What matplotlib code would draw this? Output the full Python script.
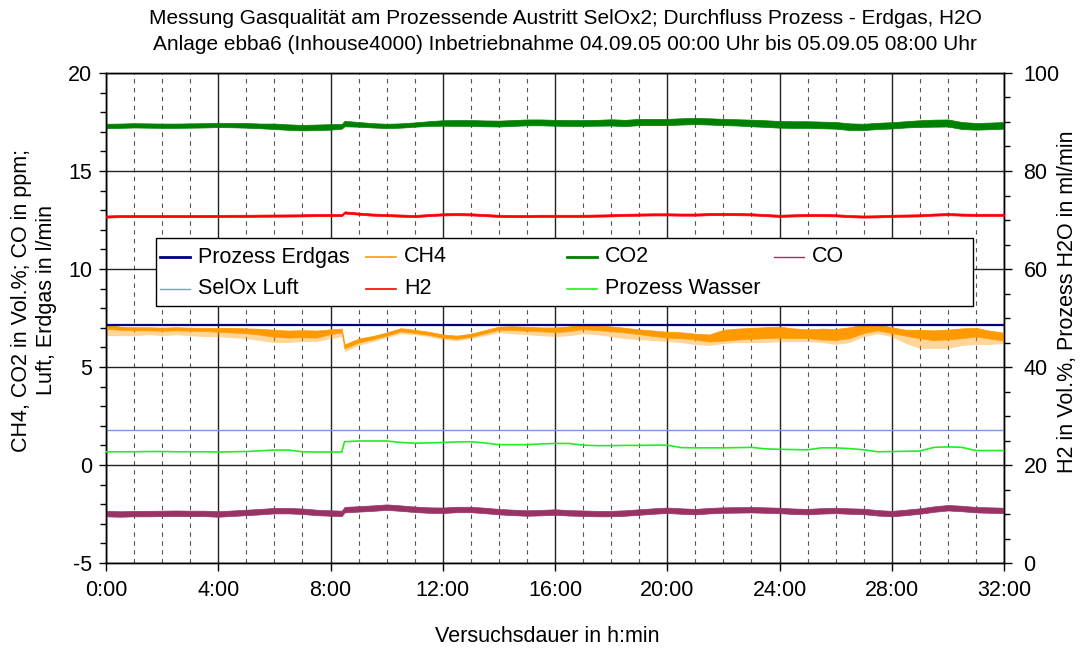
import numpy as np
import matplotlib
matplotlib.use("Agg")
import matplotlib.pyplot as plt
from matplotlib.lines import Line2D
from matplotlib.patches import Rectangle
from matplotlib.ticker import MultipleLocator, FuncFormatter

plt.rcParams['font.family'] = ['Liberation Sans', 'DejaVu Sans']
plt.rcParams['axes.unicode_minus'] = False

# Zeitachse in Stunden seit Inbetriebnahme (Sprung bei 8:25)
hours = [0.0, 0.5, 1.0, 1.5, 2.0, 2.5, 3.0, 3.5, 4.0, 4.5, 5.0, 5.5, 6.0, 6.5, 7.0, 7.5, 8.0, 8.4,
         8.5, 9.0, 9.5, 10.0, 10.5, 11.0, 11.5, 12.0, 12.5, 13.0, 13.5, 14.0, 14.5, 15.0, 15.5, 16.0,
         16.5, 17.0, 17.5, 18.0, 18.5, 19.0, 19.5, 20.0, 20.5, 21.0, 21.5, 22.0, 22.5, 23.0, 23.5, 24.0,
         24.5, 25.0, 25.5, 26.0, 26.5, 27.0, 27.5, 28.0, 28.5, 29.0, 29.5, 30.0, 30.5, 31.0, 31.5, 32.0]

# Durchfluss Erdgas und SelOx-Luft in l/min
erdgas_flow = 7.15
selox_air = 1.8

# CH4 in Vol.-%: Mittelwert, Rauschband (halbe Breite) und untere Spitzen
ch4_mid = [7.05, 6.98, 6.95, 6.95, 6.93, 6.95, 6.93, 6.92, 6.90, 6.88, 6.85, 6.80, 6.72, 6.68, 6.70, 6.68, 6.80, 6.86,
           6.05, 6.35, 6.50, 6.68, 6.90, 6.82, 6.72, 6.58, 6.52, 6.62, 6.80, 6.98, 6.98, 6.95, 6.92, 6.90,
           6.95, 7.05, 7.00, 6.95, 6.88, 6.80, 6.72, 6.65, 6.62, 6.55, 6.48, 6.62, 6.68, 6.72, 6.75, 6.78,
           6.72, 6.70, 6.68, 6.66, 6.75, 6.95, 7.02, 6.88, 6.75, 6.68, 6.62, 6.66, 6.72, 6.78, 6.65, 6.55]
ch4_band = [0.10, 0.08, 0.08, 0.08, 0.08, 0.08, 0.08, 0.08, 0.10, 0.12, 0.12, 0.15, 0.18, 0.18, 0.18, 0.18, 0.12, 0.10,
            0.10, 0.10, 0.08, 0.08, 0.08, 0.08, 0.08, 0.08, 0.08, 0.08, 0.08, 0.08, 0.10, 0.10, 0.10, 0.12,
            0.12, 0.12, 0.12, 0.12, 0.12, 0.12, 0.14, 0.15, 0.15, 0.15, 0.18, 0.28, 0.28, 0.28, 0.28, 0.28,
            0.25, 0.22, 0.28, 0.28, 0.28, 0.22, 0.15, 0.15, 0.15, 0.22, 0.25, 0.25, 0.25, 0.22, 0.20, 0.20]
ch4_low = [6.60, 6.60, 6.60, 6.65, 6.60, 6.65, 6.60, 6.55, 6.55, 6.50, 6.45, 6.35, 6.25, 6.25, 6.30, 6.30, 6.45, 6.55,
           5.78, 6.10, 6.30, 6.50, 6.70, 6.65, 6.55, 6.40, 6.35, 6.45, 6.60, 6.75, 6.70, 6.65, 6.60, 6.55,
           6.60, 6.70, 6.65, 6.55, 6.45, 6.40, 6.35, 6.30, 6.25, 6.15, 6.10, 6.20, 6.25, 6.25, 6.25, 6.30,
           6.30, 6.30, 6.25, 6.15, 6.25, 6.55, 6.70, 6.55, 6.20, 5.95, 5.95, 5.95, 6.10, 6.15, 6.15, 6.20]

# CO2 in Vol.-%: Mittelwert und Rauschband
co2_mid = [17.30, 17.31, 17.33, 17.32, 17.31, 17.31, 17.32, 17.33, 17.35, 17.34, 17.33, 17.30, 17.28, 17.24, 17.21, 17.23, 17.25, 17.28,
           17.42, 17.38, 17.33, 17.30, 17.32, 17.37, 17.42, 17.45, 17.45, 17.45, 17.43, 17.42, 17.45, 17.48, 17.48, 17.46,
           17.45, 17.45, 17.46, 17.48, 17.45, 17.50, 17.50, 17.50, 17.53, 17.55, 17.53, 17.50, 17.48, 17.45, 17.42, 17.38,
           17.37, 17.37, 17.35, 17.33, 17.26, 17.25, 17.30, 17.33, 17.38, 17.42, 17.44, 17.45, 17.32, 17.28, 17.30, 17.33]
co2_band = [0.11, 0.11, 0.11, 0.11, 0.11, 0.11, 0.11, 0.11, 0.11, 0.11, 0.12, 0.12, 0.14, 0.14, 0.14, 0.14, 0.14, 0.12,
            0.14, 0.12, 0.11, 0.11, 0.11, 0.11, 0.12, 0.14, 0.15, 0.15, 0.15, 0.15, 0.15, 0.15, 0.15, 0.15,
            0.15, 0.15, 0.15, 0.16, 0.16, 0.16, 0.16, 0.16, 0.16, 0.16, 0.16, 0.16, 0.16, 0.17, 0.17, 0.17,
            0.17, 0.17, 0.17, 0.17, 0.17, 0.16, 0.16, 0.16, 0.16, 0.17, 0.18, 0.18, 0.18, 0.17, 0.17, 0.17]

# CO in ppm
co_mid = [-2.48, -2.50, -2.48, -2.48, -2.47, -2.46, -2.47, -2.47, -2.50, -2.46, -2.42, -2.38, -2.33, -2.33, -2.36, -2.42, -2.45, -2.47,
          -2.28, -2.24, -2.20, -2.15, -2.20, -2.26, -2.30, -2.31, -2.27, -2.27, -2.32, -2.38, -2.42, -2.45, -2.43, -2.40,
          -2.44, -2.46, -2.48, -2.48, -2.45, -2.40, -2.35, -2.31, -2.35, -2.38, -2.33, -2.30, -2.29, -2.28, -2.30, -2.32,
          -2.36, -2.38, -2.34, -2.32, -2.35, -2.37, -2.44, -2.48, -2.42, -2.35, -2.25, -2.18, -2.22, -2.28, -2.30, -2.32]
co_band = 0.14

# H2 in Vol.-% (rechte Achse)
h2_mid = [70.70, 70.80, 70.80, 70.80, 70.80, 70.80, 70.80, 70.82, 70.82, 70.85, 70.85, 70.88, 70.90, 70.92, 70.95, 71.00, 71.00, 71.00,
          71.55, 71.30, 71.10, 71.00, 70.90, 70.80, 71.00, 71.15, 71.20, 71.15, 71.00, 70.85, 70.80, 70.80, 70.85, 70.85,
          70.85, 70.85, 70.90, 70.95, 71.05, 71.10, 71.15, 71.15, 71.10, 71.10, 71.20, 71.22, 71.20, 71.15, 71.00, 70.85,
          70.95, 71.00, 71.00, 70.95, 70.80, 70.70, 70.75, 70.85, 70.90, 70.95, 71.10, 71.20, 71.10, 71.05, 71.05, 71.05]
h2_band = 0.22

# Prozesswasser in ml/min (rechte Achse)
water = [22.70, 22.70, 22.70, 22.75, 22.75, 22.70, 22.70, 22.70, 22.65, 22.70, 22.75, 22.90, 23.05, 23.05, 22.70, 22.65, 22.65, 22.65,
         24.75, 24.90, 24.90, 24.90, 24.60, 24.45, 24.50, 24.60, 24.70, 24.75, 24.50, 24.15, 24.15, 24.15, 24.30, 24.40,
         24.40, 24.05, 23.95, 23.95, 24.00, 24.00, 24.05, 24.05, 23.55, 23.50, 23.50, 23.50, 23.55, 23.60, 23.30, 23.20,
         23.15, 23.10, 23.50, 23.50, 23.35, 23.10, 22.70, 22.75, 22.80, 22.85, 23.60, 23.70, 23.60, 22.95, 22.95, 22.95]

series_names = ["Prozess Erdgas", "CH4", "CO2", "CO", "SelOx Luft", "H2", "Prozess Wasser"]
series_colors = ["#000080", "#ff9900", "#008000", "#993366", "#7799dd", "#ff0000", "#22ee22"]
legend_widths = [2.0, 1.2, 2.0, 1.0, 1.0, 1.2, 1.2]

title_lines = ["Messung Gasqualität am Prozessende Austritt SelOx2; Durchfluss Prozess - Erdgas, H2O",
               "Anlage ebba6 (Inhouse4000) Inbetriebnahme 04.09.05 00:00 Uhr bis 05.09.05 08:00 Uhr"]

t = np.array(hours)
c_erd, c_ch4, c_co2, c_co, c_luft, c_h2, c_w = series_colors

fig = plt.figure(figsize=(10.86, 6.5), dpi=100)
ax = fig.add_axes([106 / 1086, 87 / 650, 898 / 1086, 490 / 650])
ax2 = ax.twinx()

# linke Achse
ch4_mid_a = np.array(ch4_mid)
ch4_band_a = np.array(ch4_band)
ax.fill_between(t, ch4_low, ch4_mid_a - ch4_band_a, color=c_ch4, alpha=0.4, lw=0, zorder=2)
ax.fill_between(t, ch4_mid_a - ch4_band_a, ch4_mid_a + ch4_band_a, color=c_ch4, lw=0.5, zorder=3)
ax.plot(t, np.full(len(t), erdgas_flow), color=c_erd, lw=1.6, zorder=4)
co2_mid_a = np.array(co2_mid)
co2_band_a = np.array(co2_band)
ax.fill_between(t, co2_mid_a - co2_band_a, co2_mid_a + co2_band_a, color=c_co2, lw=0.5, zorder=3)
co_mid_a = np.array(co_mid)
ax.fill_between(t, co_mid_a - co_band, co_mid_a + co_band, color=c_co, lw=0.5, zorder=3)
ax.plot(t, np.full(len(t), selox_air), color=c_luft, lw=1.0, zorder=3)

# rechte Achse
h2_mid_a = np.array(h2_mid)
ax2.fill_between(t, h2_mid_a - h2_band, h2_mid_a + h2_band, color=c_h2, lw=0.5, zorder=3)
ax2.plot(t, water, color=c_w, lw=1.2, zorder=3)

ax.set_xlim(0, 32)
ax.set_ylim(-5, 20)
ax2.set_ylim(0, 100)

ax.xaxis.set_major_locator(MultipleLocator(4))
ax.xaxis.set_minor_locator(MultipleLocator(1))
ax.xaxis.set_major_formatter(FuncFormatter(lambda v, p: f"{int(round(v))}:00"))
ax.yaxis.set_major_locator(MultipleLocator(5))
ax.yaxis.set_minor_locator(MultipleLocator(1))
ax2.yaxis.set_major_locator(MultipleLocator(20))
ax2.yaxis.set_minor_locator(MultipleLocator(5))

ax.grid(which='major', color='#222222', lw=1.0, zorder=1)
ax.grid(which='minor', axis='x', color='#555555', lw=0.8, linestyle=(0, (4, 4)), zorder=1)
ax.set_axisbelow(True)

fs = 15.5
ax.tick_params(axis='x', which='major', direction='out', length=6, width=1, labelsize=fs, pad=6)
ax.tick_params(axis='x', which='minor', length=0)
ax.tick_params(axis='y', which='major', direction='out', length=5, width=1, labelsize=fs, pad=5)
ax.tick_params(axis='y', which='minor', direction='out', length=4, width=1)
ax2.tick_params(axis='y', which='major', direction='out', length=6, width=1, labelsize=fs, pad=8)
ax2.tick_params(axis='y', which='minor', direction='out', length=4, width=1)
for a in (ax, ax2):
    for s in a.spines.values():
        s.set_color('black')
        s.set_linewidth(1.0)

# Legende mit gleich breiten Spalten
box_l, box_r = (156 - 106) / 898, (973 - 106) / 898
box_b, box_t = (563 - 306) / 490, (563 - 238) / 490
ax2.add_patch(Rectangle((box_l, box_b), box_r - box_l, box_t - box_b, transform=ax2.transAxes,
                        facecolor='white', edgecolor='black', lw=1.0, zorder=10, clip_on=False))
col_x = [(x - 106) / 898 for x in (198, 404, 605, 812)]
row_y = [(563 - 257) / 490, (563 - 289) / 490]
slots = [(0, 0), (1, 0), (2, 0), (3, 0), (0, 1), (1, 1), (2, 1)]
for name, col, lw, (ci, ri) in zip(series_names, series_colors, legend_widths, slots):
    x0 = col_x[ci]
    y0 = row_y[ri]
    ax2.add_line(Line2D([x0 - 38 / 898, x0 - 8 / 898], [y0, y0], transform=ax2.transAxes,
                        color=col, lw=lw, zorder=11, clip_on=False))
    ax2.text(x0, y0, name, transform=ax2.transAxes, fontsize=fs, va='center', ha='left', zorder=11)

fig.text(565 / 1086, 1 - 18 / 650, title_lines[0], ha='center', va='center', fontsize=15)
fig.text(565 / 1086, 1 - 44 / 650, title_lines[1], ha='center', va='center', fontsize=15)
fig.text(547 / 1086, 1 - 637 / 650, "Versuchsdauer in h:min", ha='center', va='center', fontsize=fs)
fig.text(34 / 1086, 1 - 300 / 650, "CH4, CO2 in Vol.%; CO in ppm;\nLuft, Erdgas in l/min",
         rotation=90, ha='center', va='center', multialignment='center', fontsize=fs, linespacing=1.2)
fig.text(1068 / 1086, 1 - 302 / 650, "H2 in Vol.%, Prozess H2O in ml/min",
         rotation=90, ha='center', va='center', fontsize=fs)

fig.savefig("out.png", dpi=100)
